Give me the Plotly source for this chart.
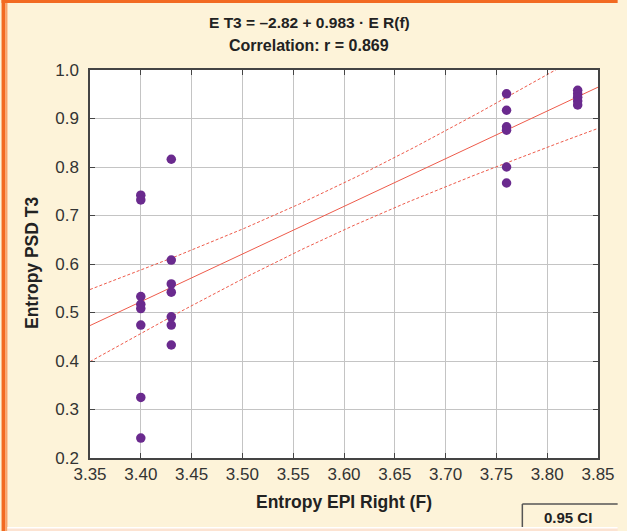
import numpy as np
import plotly.graph_objects as go

# ---- data ----
x_vals = [3.40]*8 + [3.43]*7 + [3.76]*6 + [3.83]*5
y_vals = [0.742, 0.732, 0.533, 0.517, 0.508, 0.474, 0.325, 0.241,
          0.816, 0.608, 0.559, 0.542, 0.491, 0.474, 0.433,
          0.951, 0.917, 0.883, 0.876, 0.800, 0.767,
          0.958, 0.951, 0.944, 0.936, 0.928]
intercept = -2.82
slope = 0.983
t_crit = 2.064  # 0.95, df = n-2

x_ticks = [3.35, 3.40, 3.45, 3.50, 3.55, 3.60, 3.65, 3.70, 3.75, 3.80, 3.85]
y_ticks = [0.2, 0.3, 0.4, 0.5, 0.6, 0.7, 0.8, 0.9, 1.0]

title_lines = ["E T3 = \u20132.82 + 0.983 \u00b7 E R(f)", "Correlation: r = 0.869"]
x_title = "Entropy EPI Right (F)"
y_title = "Entropy PSD T3"
ci_label = "0.95 CI"

# ---- regression and confidence band ----
xa = np.array(x_vals)
ya = np.array(y_vals)
n = len(xa)
resid = ya - (intercept + slope * xa)
s = np.sqrt(np.sum(resid**2) / (n - 2))
xm = xa.mean()
sxx = np.sum((xa - xm)**2)
xl = np.linspace(x_ticks[0], x_ticks[-1], 200)
yl = intercept + slope * xl
half = t_crit * s * np.sqrt(1.0/n + (xl - xm)**2 / sxx)

FONT = "Liberation Sans, Arial, sans-serif"
NARROW = "Liberation Sans Narrow, Arial Narrow, Liberation Sans, sans-serif"
W, H = 627, 531
ML, MR, MT, MB = 90, 20, 70, 73
pw, ph = W - ML - MR, H - MT - MB

def px(xp):
    return (xp - ML) / pw

def py(yp):
    return (H - MB - yp) / ph

fig = go.Figure()
line_col = "#EE5B4B"
fig.add_trace(go.Scatter(x=xl, y=yl + half, mode="lines",
                         line=dict(color=line_col, width=1, dash="3px,2px"), hoverinfo="skip"))
fig.add_trace(go.Scatter(x=xl, y=yl - half, mode="lines",
                         line=dict(color=line_col, width=1, dash="3px,2px"), hoverinfo="skip"))
fig.add_trace(go.Scatter(x=xl, y=yl, mode="lines",
                         line=dict(color=line_col, width=1), hoverinfo="skip"))
fig.add_trace(go.Scatter(x=x_vals, y=y_vals, mode="markers",
                         marker=dict(color="#6A2A8E", size=9.5, line=dict(width=0))))

axis_common = dict(showline=True, linecolor="#444", linewidth=1.5, mirror="ticks",
                   ticks="inside", ticklen=5, tickcolor="#444", showgrid=True,
                   gridcolor="#C4C4C4", gridwidth=1, zeroline=False,
                   tickfont=dict(family=NARROW, size=17, color="#333"))

fig.update_layout(
    width=W, height=H, showlegend=False,
    margin=dict(l=ML, r=MR, t=MT, b=MB),
    paper_bgcolor="#FDF3D9", plot_bgcolor="white",
    xaxis=dict(range=[x_ticks[0], x_ticks[-1]], tickvals=x_ticks,
               ticktext=[f"{v:.2f}" for v in x_ticks], **axis_common),
    yaxis=dict(range=[y_ticks[0], y_ticks[-1]], tickvals=y_ticks,
               ticktext=[f"{v:.1f}" for v in y_ticks], ticklabelstandoff=6, **axis_common),
)

shapes = [
    # orange frame left and top
    dict(type="rect", xref="paper", yref="paper", x0=px(0), x1=px(4), y0=py(H), y1=py(0),
         fillcolor="#F26A22", line=dict(width=0), layer="above"),
    dict(type="rect", xref="paper", yref="paper", x0=px(4), x1=px(6), y0=py(H), y1=py(3),
         fillcolor="#F8A36C", line=dict(width=0), layer="above"),
    dict(type="rect", xref="paper", yref="paper", x0=px(0), x1=px(W), y0=py(3), y1=py(0),
         fillcolor="#F26A22", line=dict(width=0), layer="above"),
    # bottom strip
    dict(type="rect", xref="paper", yref="paper", x0=px(6), x1=px(W), y0=py(H), y1=py(527),
         fillcolor="#FCE3D2", line=dict(width=0), layer="above"),
    dict(type="rect", xref="paper", yref="paper", x0=px(6), x1=px(W), y0=py(528.5), y1=py(527),
         fillcolor="#FFFFFF", line=dict(width=0), layer="above"),
    # CI box
    dict(type="line", xref="paper", yref="paper", x0=px(530), x1=px(530), y0=py(527), y1=py(504),
         line=dict(color="#555", width=1.5)),
    dict(type="line", xref="paper", yref="paper", x0=px(530), x1=px(W), y0=py(504), y1=py(504),
         line=dict(color="#555", width=1.5)),
]
fig.update_layout(shapes=shapes)

annotations = [
    dict(text=f"<b>{title_lines[0]}</b>", xref="paper", yref="paper", x=px(313), y=py(22),
         showarrow=False, font=dict(family=FONT, size=15.5, color="#222"), xanchor="center", yanchor="middle"),
    dict(text=f"<b>{title_lines[1]}</b>", xref="paper", yref="paper", x=px(313), y=py(45),
         showarrow=False, font=dict(family=FONT, size=16, color="#222"), xanchor="center", yanchor="middle"),
    dict(text=f"<b>{x_title}</b>", xref="paper", yref="paper", x=px(349), y=py(502),
         showarrow=False, font=dict(family=FONT, size=17.5, color="#222"), xanchor="center", yanchor="middle"),
    dict(text=f"<b>{y_title}</b>", xref="paper", yref="paper", x=px(31), y=py(263), textangle=-90,
         showarrow=False, font=dict(family=FONT, size=17.5, color="#222"), xanchor="center", yanchor="middle"),
    dict(text=f"<b>{ci_label}</b>", xref="paper", yref="paper", x=px(576), y=py(517),
         showarrow=False, font=dict(family=FONT, size=15, color="#222"), xanchor="center", yanchor="middle"),
]
fig.update_layout(annotations=annotations)

fig.write_html("out.html")
